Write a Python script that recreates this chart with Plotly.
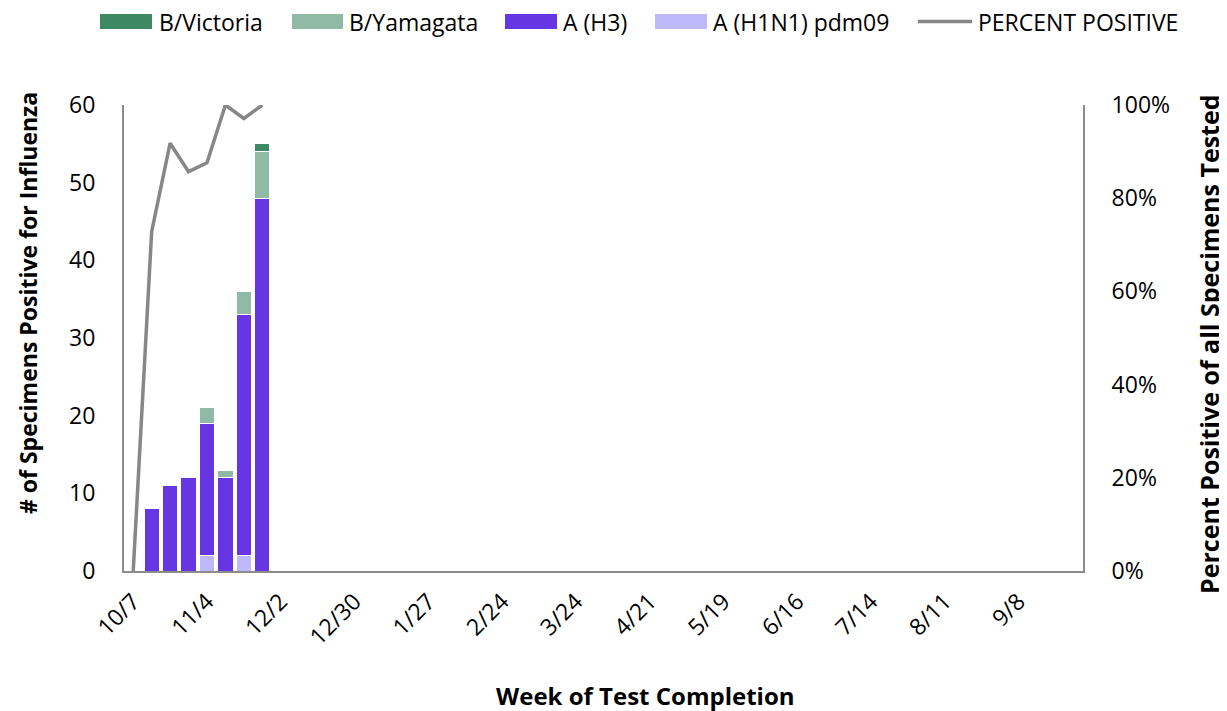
import plotly.graph_objects as go

WEEKS = ["10/7", "10/14", "10/21", "10/28", "11/4", "11/11", "11/18", "11/25",
         "12/2", "12/9", "12/16", "12/23", "12/30", "1/6", "1/13", "1/20", "1/27",
         "2/3", "2/10", "2/17", "2/24", "3/3", "3/10", "3/17", "3/24", "3/31",
         "4/7", "4/14", "4/21", "4/28", "5/5", "5/12", "5/19", "5/26", "6/2",
         "6/9", "6/16", "6/23", "6/30", "7/7", "7/14", "7/21", "7/28", "8/4",
         "8/11", "8/18", "8/25", "9/1", "9/8", "9/15", "9/22", "9/29"]
TICK_WEEKS = ["10/7", "11/4", "12/2", "12/30", "1/27", "2/24", "3/24", "4/21",
              "5/19", "6/16", "7/14", "8/11", "9/8"]

# weeks reported so far (10/7 .. 11/25)
h1n1 = [0, 0, 0, 0, 2, 0, 2, 0]
h3 = [0, 8, 11, 12, 17, 12, 31, 48]
yamagata = [0, 0, 0, 0, 2, 1, 3, 6]
victoria = [0, 0, 0, 0, 0, 0, 0, 1]
pct_positive = [0.0, 0.728, 0.918, 0.857, 0.876, 1.0, 0.971, 1.0]

FONT = "'Open Sans', sans-serif"
OFF = 8  # default body margin of the html page
W, H = 1227 - OFF, 711 - OFF
L, T = 124 - OFF, 105 - OFF
R = W - (1083 - OFF)
B = H - (571 - OFF)
PW, PH = W - L - R, H - T - B


# screen pixel -> paper coordinate
def px_x(px):
    return (px - OFF - L) / PW


def px_y(py):
    return 1 - (py - OFF - T) / PH


COLORS = {
    "A (H1N1) pdm09": "#BDB9FB",
    "A (H3)": "#6636E2",
    "B/Yamagata": "#90BAA5",
    "B/Victoria": "#3E8963",
}
LINE_COLOR = "#878787"

fig = go.Figure()
n = len(h3)
for name, vals in [("A (H1N1) pdm09", h1n1), ("A (H3)", h3),
                   ("B/Yamagata", yamagata), ("B/Victoria", victoria)]:
    fig.add_trace(go.Bar(
        x=WEEKS[:n], y=vals, name=name,
        marker=dict(color=COLORS[name], line=dict(color="white", width=1)),
    ))
fig.add_trace(go.Scatter(
    x=WEEKS[:n], y=pct_positive, name="PERCENT POSITIVE", yaxis="y2",
    mode="lines", line=dict(color=LINE_COLOR, width=3.5),
))

# legend drawn by hand so the swatches look like the original (wide blocks)
legend_items = [
    ("B/Victoria", 100, 152, 157),
    ("B/Yamagata", 292, 343, 347),
    ("A (H3)", 505, 557, 561),
    ("A (H1N1) pdm09", 655, 707, 711),
]
shapes = []
annotations = []
ly = 21.5
for name, x0, x1, tx in legend_items:
    shapes.append(dict(type="rect", xref="paper", yref="paper",
                       x0=px_x(x0), x1=px_x(x1), y0=px_y(ly + 7.5), y1=px_y(ly - 7.5),
                       fillcolor=COLORS[name], line=dict(width=0)))
    annotations.append(dict(text=name, xref="paper", yref="paper", x=px_x(tx), y=px_y(ly),
                            xanchor="left", yanchor="middle", showarrow=False,
                            font=dict(size=23)))
shapes.append(dict(type="line", xref="paper", yref="paper",
                   x0=px_x(918), x1=px_x(972), y0=px_y(ly), y1=px_y(ly),
                   line=dict(color=LINE_COLOR, width=3.5)))
annotations.append(dict(text="PERCENT POSITIVE", xref="paper", yref="paper",
                        x=px_x(976), y=px_y(ly), xanchor="left", yanchor="middle",
                        showarrow=False, font=dict(size=23)))

# axis titles
annotations += [
    dict(text="<b># of Specimens Positive for Influenza</b>", xref="paper", yref="paper",
         x=px_x(28), y=px_y(303), textangle=-90, showarrow=False,
         xanchor="center", yanchor="middle", font=dict(size=23)),
    dict(text="<b>Percent Positive of all Specimens Tested</b>", xref="paper", yref="paper",
         x=px_x(1209), y=px_y(344), textangle=-90, showarrow=False,
         xanchor="center", yanchor="middle", font=dict(size=25)),
    dict(text="<b>Week of Test Completion</b>", xref="paper", yref="paper",
         x=px_x(645), y=px_y(695), showarrow=False,
         xanchor="center", yanchor="middle", font=dict(size=24)),
]

fig.update_layout(
    barmode="stack",
    bargap=0.17,
    width=W, height=H,
    showlegend=False,
    plot_bgcolor="white", paper_bgcolor="white",
    font=dict(family=FONT, size=23, color="black"),
    margin=dict(l=L, r=R, t=T, b=B, autoexpand=False),
    shapes=shapes,
    annotations=annotations,
    xaxis=dict(
        type="category", categoryorder="array", categoryarray=WEEKS,
        range=[-0.5, len(WEEKS) - 0.5], automargin=False,
        tickmode="array", tickvals=TICK_WEEKS, ticktext=TICK_WEEKS,
        tickangle=-45, showgrid=False, showline=True, linecolor="#8c8c8c",
        linewidth=2, ticks="outside", ticklen=6, tickcolor="rgba(0,0,0,0)",
    ),
    yaxis=dict(
        range=[0, 60], dtick=10, showgrid=False, zeroline=False, automargin=False,
        showline=True, linecolor="#8c8c8c", linewidth=2,
        ticks="outside", ticklen=22, tickcolor="rgba(0,0,0,0)",
    ),
    yaxis2=dict(
        overlaying="y", side="right", range=[0, 1], dtick=0.2, automargin=False,
        tickformat=".0%", showgrid=False, zeroline=False,
        showline=True, linecolor="#8c8c8c", linewidth=2,
        ticks="outside", ticklen=22, tickcolor="rgba(0,0,0,0)",
    ),
)

fig.write_html("out.html")
